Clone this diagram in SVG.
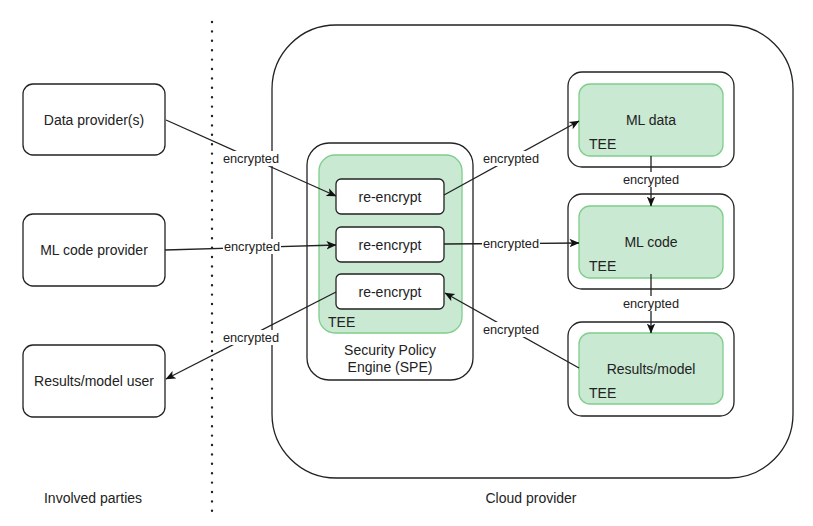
<svg xmlns="http://www.w3.org/2000/svg" width="813" height="526" viewBox="0 0 813 526">
<defs>
<style>
.box{fill:#fff;stroke:#222;stroke-width:1.3}
.tee{fill:#c9e9d3;stroke:#7fce8b;stroke-width:1.3}
.t{font-family:"Liberation Sans",Arial,sans-serif;font-size:14px;fill:#222;text-anchor:middle;dominant-baseline:central}
.tl{font-family:"Liberation Sans",Arial,sans-serif;font-size:14px;fill:#222;dominant-baseline:central}
.lb{font-family:"Liberation Sans",Arial,sans-serif;font-size:12.8px;fill:#222;text-anchor:middle;dominant-baseline:central}
.lbg{fill:#fff}
.c{fill:none;stroke:#222;stroke-width:1.3}
</style>
<marker id="ah" viewBox="0 0 10 10" refX="9.5" refY="5" markerWidth="10" markerHeight="10" markerUnits="userSpaceOnUse" orient="auto">
<path d="M0,0.8 L10,5 L0,9.2 L2.5,5 z" fill="#111"/>
</marker>
</defs>
<rect width="813" height="526" fill="#fff"/>

<g id="divider">
<line x1="212" y1="22" x2="212" y2="512" stroke="#222" stroke-width="2.4" stroke-linecap="round" stroke-dasharray="0 9.4"/>
</g>

<g id="cloud">
<rect x="272" y="25" width="521" height="453" rx="64" ry="64" class="box"/>
<text x="531" y="498" class="t">Cloud provider</text>
</g>
<g id="involved">
<text x="93" y="498" class="t">Involved parties</text>
</g>

<g id="data-provider">
<rect x="23" y="84" width="142" height="71" rx="10" class="box"/>
<text x="94" y="120" class="t">Data provider(s)</text>
</g>
<g id="ml-code-provider">
<rect x="23" y="214" width="142" height="72" rx="10" class="box"/>
<text x="94" y="250" class="t">ML code provider</text>
</g>
<g id="results-user">
<rect x="23" y="345" width="142" height="72" rx="10" class="box"/>
<text x="94" y="381" class="t">Results/model user</text>
</g>

<g id="spe">
<rect x="307" y="143" width="166" height="237" rx="22" class="box"/>
<rect x="319" y="155" width="143" height="178" rx="16" class="tee"/>
<text x="328" y="322" class="tl">TEE</text>
<text x="390" y="350" class="t">Security Policy</text>
<text x="390" y="367" class="t">Engine (SPE)</text>
</g>
<g id="reencrypt1">
<rect x="336" y="179" width="108" height="35" rx="5" class="box"/>
<text x="390" y="196.5" class="t">re-encrypt</text>
</g>
<g id="reencrypt2">
<rect x="336" y="227" width="108" height="35" rx="5" class="box"/>
<text x="390" y="244.5" class="t">re-encrypt</text>
</g>
<g id="reencrypt3">
<rect x="336" y="274" width="108" height="35" rx="5" class="box"/>
<text x="390" y="291.5" class="t">re-encrypt</text>
</g>

<g id="ml-data">
<rect x="568" y="72" width="166" height="95" rx="14" class="box"/>
<rect x="579" y="84" width="144" height="72" rx="11" class="tee"/>
<text x="651" y="120" class="t">ML data</text>
<text x="589" y="144" class="tl">TEE</text>
</g>
<g id="ml-code">
<rect x="568" y="194" width="166" height="95" rx="14" class="box"/>
<rect x="579" y="206" width="144" height="72" rx="11" class="tee"/>
<text x="651" y="242" class="t">ML code</text>
<text x="589" y="266" class="tl">TEE</text>
</g>
<g id="results-model">
<rect x="568" y="322" width="166" height="94" rx="14" class="box"/>
<rect x="579" y="333" width="144" height="71" rx="11" class="tee"/>
<text x="651" y="369" class="t">Results/model</text>
<text x="589" y="393" class="tl">TEE</text>
</g>

<g id="connectors">
<line x1="166" y1="120" x2="336" y2="196" class="c" marker-end="url(#ah)"/>
<line x1="165" y1="250" x2="336" y2="245" class="c" marker-end="url(#ah)"/>
<line x1="336" y1="292" x2="166" y2="379" class="c" marker-end="url(#ah)"/>
<line x1="444" y1="195" x2="579" y2="121" class="c" marker-end="url(#ah)"/>
<line x1="444" y1="244" x2="579" y2="243" class="c" marker-end="url(#ah)"/>
<line x1="579" y1="368" x2="445" y2="293" class="c" marker-end="url(#ah)"/>
<line x1="651" y1="156" x2="651" y2="206" class="c" marker-end="url(#ah)"/>
<line x1="651" y1="274" x2="651" y2="333" class="c" marker-end="url(#ah)"/>

<rect x="222" y="151" width="58" height="15" class="lbg"/>
<text x="251" y="158.5" class="lb">encrypted</text>
<rect x="223" y="239" width="58" height="15" class="lbg"/>
<text x="252" y="246" class="lb">encrypted</text>
<rect x="222" y="330" width="58" height="15" class="lbg"/>
<text x="251" y="337" class="lb">encrypted</text>
<rect x="482" y="151" width="58" height="15" class="lbg"/>
<text x="511" y="158.5" class="lb">encrypted</text>
<rect x="482" y="236" width="58" height="15" class="lbg"/>
<text x="511" y="243" class="lb">encrypted</text>
<rect x="482" y="322" width="58" height="15" class="lbg"/>
<text x="511" y="329" class="lb">encrypted</text>
<rect x="622" y="172" width="58" height="15" class="lbg"/>
<text x="651" y="179.5" class="lb">encrypted</text>
<rect x="622" y="296" width="58" height="15" class="lbg"/>
<text x="651" y="303.5" class="lb">encrypted</text>
</g>
</svg>
